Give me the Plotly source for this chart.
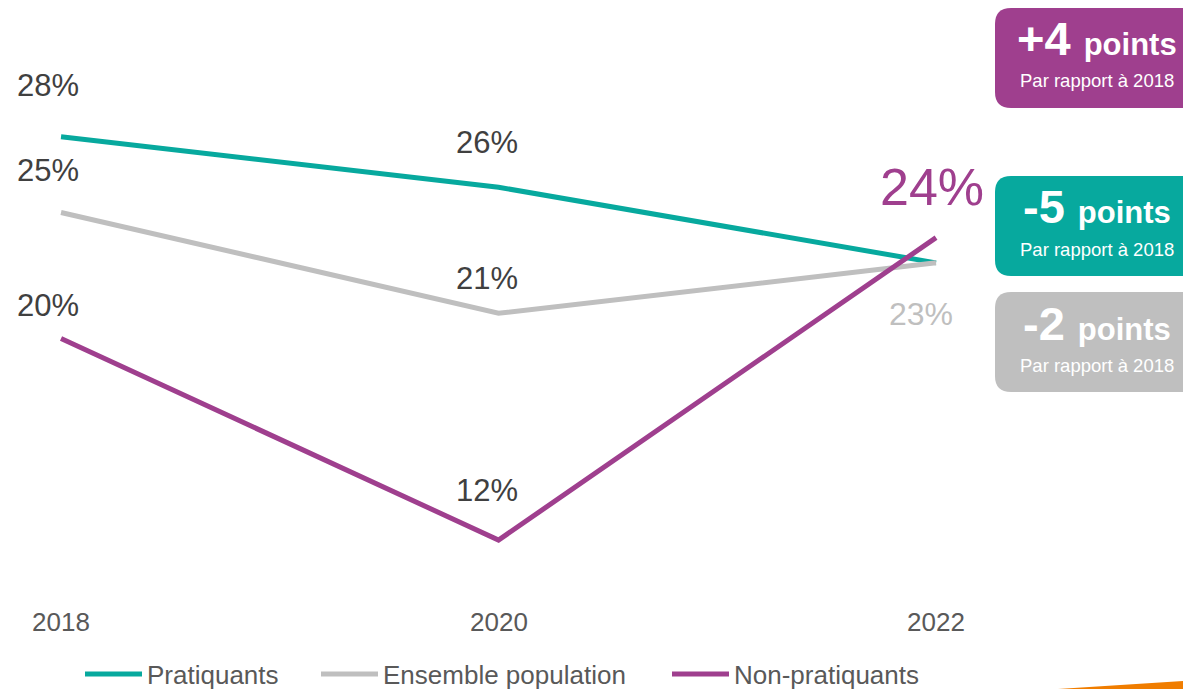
import plotly.graph_objects as go

W, H = 1183, 689

TEAL   = "#07A99E"
GRAY   = "#BFBFBF"
PURPLE = "#9F3F8E"
TXT    = "#404040"

years = [2018, 2020, 2022]
pratiquants = [28, 26, 23]
ensemble    = [25, 21, 23]
non_prat    = [20, 12, 24]

series_names = ["Pratiquants", "Ensemble population", "Non-pratiquants"]
deltas = ["+4", "-5", "-2"]
delta_sub = "Par rapport à 2018"


def px(x):
    return x / W


def py(y):
    return 1 - y / H


def rounded_box(x0, y0, x1, y1, r):
    # pixel coords -> paper path with rounded corners
    return (f"M {px(x0 + r)},{py(y0)} L {px(x1 - r)},{py(y0)} "
            f"Q {px(x1)},{py(y0)} {px(x1)},{py(y0 + r)} "
            f"L {px(x1)},{py(y1 - r)} Q {px(x1)},{py(y1)} {px(x1 - r)},{py(y1)} "
            f"L {px(x0 + r)},{py(y1)} Q {px(x0)},{py(y1)} {px(x0)},{py(y1 - r)} "
            f"L {px(x0)},{py(y0 + r)} Q {px(x0)},{py(y0)} {px(x0 + r)},{py(y0)} Z")


fig = go.Figure()
legend_ids = ["legend", "legend2", "legend3"]
for name, vals, col, lg in zip(series_names, [pratiquants, ensemble, non_prat],
                               [TEAL, GRAY, PURPLE], legend_ids):
    fig.add_trace(go.Scatter(
        x=years, y=vals, name=name, mode="lines", legend=lg,
        line=dict(color=col, width=5),
    ))

# data labels: (series, index, xshift, yshift, color, size)
label_spec = [
    (pratiquants, 0, -13, 51, TXT, 31),
    (pratiquants, 1, -12, 45, TXT, 31),
    (ensemble,    0, -13, 42, TXT, 31),
    (ensemble,    1, -12, 35, TXT, 31),
    (ensemble,    2, -15, -51, GRAY, 32),
    (non_prat,    0, -13, 33, TXT, 31),
    (non_prat,    1, -12, 50, TXT, 31),
    (non_prat,    2, -4, 51, PURPLE, 52),
]
for vals, i, dx, dy, col, size in label_spec:
    fig.add_annotation(
        x=years[i], y=vals[i], text=f"{vals[i]}%", showarrow=False,
        xshift=dx, yshift=dy, font=dict(size=size, color=col),
    )

for yr in years:
    fig.add_annotation(
        x=yr, y=py(622), yref="paper", yanchor="middle", text=str(yr), showarrow=False,
        font=dict(size=26, color="#595959"),
    )

# delta boxes on the right
boxes = [(8, 108, PURPLE), (176, 276, TEAL), (292, 392, GRAY)]
for (y0, y1, col), d in zip(boxes, deltas):
    fig.add_shape(type="path", path=rounded_box(995, y0, 1215, y1, 16),
                  xref="paper", yref="paper", fillcolor=col, line_width=0, layer="below")
    fig.add_annotation(
        x=px(1097), y=py(y0 + 31), xref="paper", yref="paper", showarrow=False,
        xanchor="center", yanchor="middle",
        text=f"<b>{d}</b> <b><span style='font-size:31px'>points</span></b>",
        font=dict(size=47, color="white"),
    )
    fig.add_annotation(
        x=px(1097), y=py(y0 + 73), xref="paper", yref="paper", showarrow=False,
        xanchor="center", yanchor="middle",
        text=delta_sub, font=dict(size=18.5, color="white"),
    )

# orange sliver bottom right
fig.add_shape(type="path", xref="paper", yref="paper",
              path=f"M {px(1058)},{py(689)} L {px(1183)},{py(681)} L {px(1183)},{py(689)} Z",
              fillcolor="#F07D00", line_width=0)

leg_style = dict(
    orientation="h", yanchor="middle", y=py(674), xanchor="left",
    font=dict(size=26, color="#595959"), itemwidth=57,
    bgcolor="rgba(0,0,0,0)",
)
fig.update_layout(
    width=W, height=H,
    margin=dict(l=0, r=0, t=0, b=0, autoexpand=False),
    paper_bgcolor="white", plot_bgcolor="white",
    font=dict(family="Liberation Sans, Arial, sans-serif", color=TXT),
    showlegend=True,
    legend=dict(leg_style, x=px(80)),
    legend2=dict(leg_style, x=px(316)),
    legend3=dict(leg_style, x=px(667)),
)
fig.update_xaxes(range=[2017.721, 2023.129], visible=False)
fig.update_yaxes(range=[6.09, 33.43], visible=False)

fig.write_html("out.html", config={"displayModeBar": False},
               post_script="document.body.style.margin='0';"
                           "document.documentElement.style.overflow='hidden';")
